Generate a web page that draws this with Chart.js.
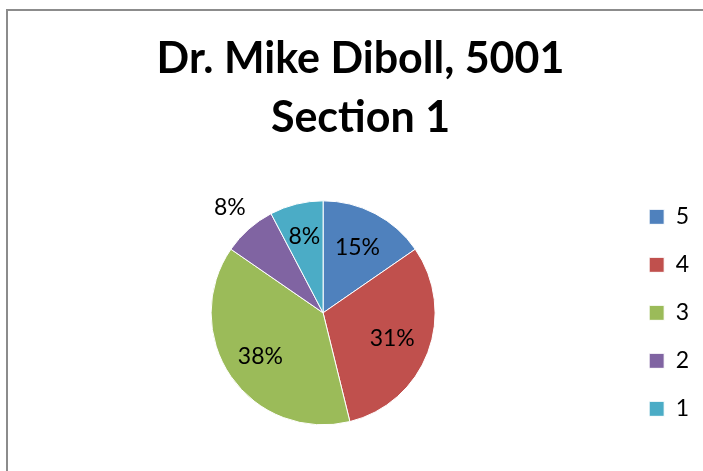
<!DOCTYPE html>
<html><head><meta charset="utf-8">
<script src="https://cdn.jsdelivr.net/npm/chart.js@4.4.0/dist/chart.umd.min.js"></script>
<style>html,body{margin:0;padding:0;background:#fff;overflow:hidden}</style>
</head><body>
<canvas id="c" width="703" height="471"></canvas>
<script>
const categories = ['5', '4', '3', '2', '1'];
const counts = [2, 4, 5, 1, 1];
const sliceColors = ['#4F81BD', '#C0504D', '#9BBB59', '#8064A2', '#4BACC6'];
const titleLines = ['Dr. Mike Diboll, 5001', 'Section 1'];
// label placement: fraction of the radius along each slice's middle angle
const labelRadiusFactor = [0.66, 0.66, 0.68, 1.255, 0.70];

const frame = {
  id: 'frame',
  beforeDraw(chart) {
    const ctx = chart.ctx;
    ctx.save();
    ctx.fillStyle = '#fff';
    ctx.fillRect(0, 0, chart.width, chart.height);
    ctx.strokeStyle = '#8c8c8c';
    ctx.lineWidth = 2;
    ctx.beginPath();
    ctx.moveTo(7, chart.height + 2);
    ctx.lineTo(7, 10);
    ctx.lineTo(chart.width + 2, 10);
    ctx.stroke();
    ctx.restore();
  }
};

const pctLabels = {
  id: 'pctLabels',
  afterDatasetsDraw(chart) {
    const ctx = chart.ctx;
    const meta = chart.getDatasetMeta(0);
    const data = chart.data.datasets[0].data;
    const total = data.reduce((a, b) => a + b, 0);
    ctx.save();
    ctx.font = '23px Lato';
    ctx.fillStyle = '#000';
    ctx.textAlign = 'center';
    ctx.textBaseline = 'middle';
    meta.data.forEach((arc, i) => {
      const p = arc.getProps(['x', 'y', 'startAngle', 'endAngle', 'outerRadius'], true);
      const mid = (p.startAngle + p.endAngle) / 2;
      const r = p.outerRadius * labelRadiusFactor[i];
      const txt = Math.round(data[i] / total * 100) + '%';
      ctx.fillText(txt, p.x + Math.cos(mid) * r, p.y + Math.sin(mid) * r);
    });
    ctx.restore();
  }
};

new Chart(document.getElementById('c'), {
  type: 'pie',
  data: {
    labels: categories,
    datasets: [{
      data: counts,
      backgroundColor: sliceColors,
      borderColor: '#ffffff',
      borderWidth: 1,
      radius: 112
    }]
  },
  options: {
    responsive: false,
    animation: false,
    layout: { padding: { top: 0, bottom: 25, left: 22, right: 4 } },
    plugins: {
      title: {
        display: true,
        text: titleLines,
        color: '#000',
        font: { family: 'Lato', size: 43, weight: 'bold', lineHeight: 1.38 },
        padding: { top: 29, bottom: 32 }
      },
      legend: {
        display: true,
        position: 'right',
        fullSize: false,
        labels: {
          color: '#000',
          font: { family: 'Lato', size: 23 },
          boxWidth: 15,
          boxHeight: 15,
          padding: 25
        }
      },
      tooltip: { enabled: false }
    }
  },
  plugins: [frame, pctLabels]
});
</script>
</body></html>
